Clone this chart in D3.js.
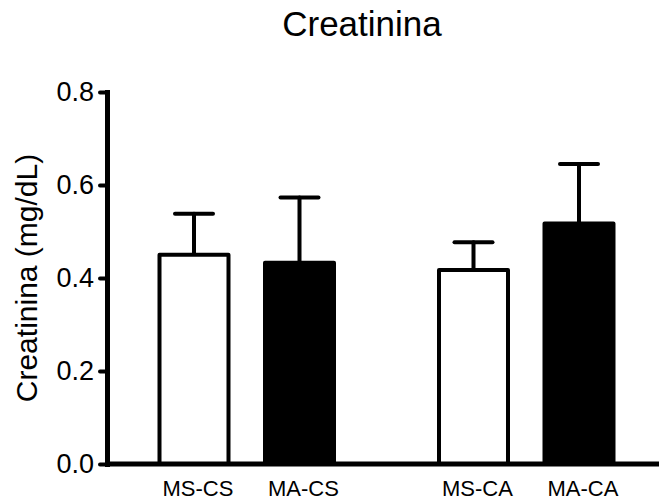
<!DOCTYPE html>
<html>
<head>
<meta charset="utf-8">
<script src="https://cdn.jsdelivr.net/npm/d3@7"></script>
<style>
  body { margin: 0; background: #fff; }
  svg { display: block; font-family: "Liberation Sans", Arial, sans-serif; }
</style>
</head>
<body>
<svg id="chart" width="659" height="502"></svg>
<script>
// data
const groups = ["CS", "CA"];
const diets = ["MS", "MA"];
const labels = ["MS-CS", "MA-CS", "MS-CA", "MA-CA"];
const means = [0.450, 0.433, 0.417, 0.517];
const sems = [0.088, 0.140, 0.060, 0.128];
const yTicks = [0.0, 0.2, 0.4, 0.6, 0.8];

const bars = labels.map((name, i) => ({
  name,
  group: groups[Math.floor(i / 2)],
  diet: diets[i % 2],
  mean: means[i],
  sem: sems[i]
}));

const svg = d3.select("#chart");
const axisX = 107, axisY = 464, topY = 92;

const y = d3.scaleLinear().domain([0, 0.8]).range([axisY, topY]);

// outer: groups, inner: diet within a group
const xGroup = d3.scalePoint().domain(groups).range([axisX, 666]).padding(0.5);
const xDiet = d3.scaleBand().domain(diets).range([-105.5, 105.5])
  .paddingInner(0.346).paddingOuter(0.173);

const cx = d => xGroup(d.group) + xDiet(d.diet) + xDiet.bandwidth() / 2;

// title
svg.append("text")
  .attr("x", 362)
  .attr("y", 36)
  .attr("text-anchor", "middle")
  .style("font-size", "35px")
  .text("Creatinina");

// y label
svg.append("text")
  .attr("transform", "translate(37, 278) rotate(-90)")
  .attr("text-anchor", "middle")
  .style("font-size", "30px")
  .text("Creatinina (mg/dL)");

// error bars (drawn first so bar tops sit over the stem)
const err = svg.append("g").attr("class", "errors")
  .attr("stroke", "#000")
  .attr("stroke-width", 4)
  .attr("stroke-linecap", "round");

err.selectAll(".stem")
  .data(bars)
  .join("line")
  .attr("class", "stem")
  .attr("x1", cx).attr("x2", cx)
  .attr("y1", d => y(d.mean))
  .attr("y2", d => y(d.mean + d.sem));

err.selectAll(".cap")
  .data(bars)
  .join("line")
  .attr("class", "cap")
  .attr("x1", d => cx(d) - 19).attr("x2", d => cx(d) + 19)
  .attr("y1", d => y(d.mean + d.sem))
  .attr("y2", d => y(d.mean + d.sem));

// bars
svg.append("g").attr("class", "bars")
  .selectAll("rect")
  .data(bars)
  .join("rect")
  .attr("x", d => xGroup(d.group) + xDiet(d.diet))
  .attr("width", xDiet.bandwidth())
  .attr("y", d => y(d.mean))
  .attr("height", d => axisY - y(d.mean))
  .attr("fill", d => d.diet === "MA" ? "#000" : "#fff")
  .attr("stroke", "#000")
  .attr("stroke-width", 4)
  .attr("stroke-linejoin", "round");

// y axis
const yAxis = svg.append("g")
  .attr("transform", `translate(${axisX},0)`)
  .call(d3.axisLeft(y)
    .tickValues(yTicks)
    .tickFormat(d3.format(".1f"))
    .tickSize(7)
    .tickSizeOuter(0)
    .tickPadding(6));

yAxis.select(".domain")
  .attr("stroke-width", 5)
  .attr("stroke-linecap", "square");
yAxis.selectAll(".tick line")
  .attr("stroke-width", 4)
  .attr("stroke-linecap", "round");
yAxis.selectAll(".tick text")
  .style("font-size", "27px")
  .style("font-family", "'Liberation Sans', Arial, sans-serif")
  .attr("fill", "#000");

// x axis baseline
svg.append("line")
  .attr("x1", axisX - 2).attr("x2", 659)
  .attr("y1", axisY).attr("y2", axisY)
  .attr("stroke", "#000")
  .attr("stroke-width", 5);

// category labels (sit a little right of the bar centres in the original)
svg.append("g").attr("class", "xlabels")
  .selectAll("text")
  .data(bars)
  .join("text")
  .attr("x", d => cx(d) + 4)
  .attr("y", 496)
  .attr("text-anchor", "middle")
  .style("font-size", "22px")
  .text(d => d.name);
</script>
</body>
</html>
